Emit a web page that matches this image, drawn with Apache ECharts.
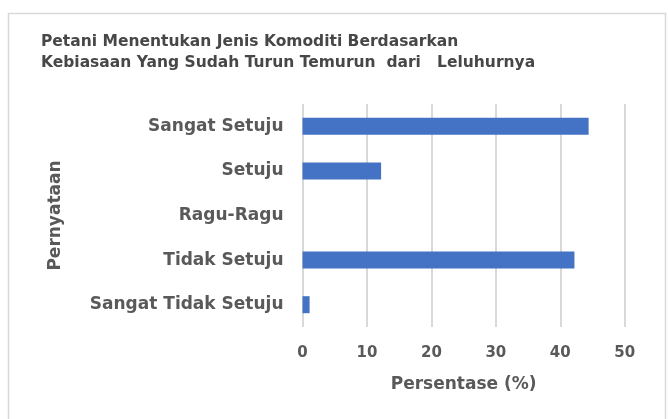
<!DOCTYPE html>
<html>
<head>
<meta charset="utf-8">
<script src="https://cdn.jsdelivr.net/npm/echarts@6/dist/echarts.min.js"></script>
<style>
html,body{margin:0;padding:0;background:#fff;}
#chart{width:668px;height:419px;}
</style>
</head>
<body>
<div id="chart"></div>
<script>
const titleLines = ["Petani Menentukan Jenis Komoditi Berdasarkan", "Kebiasaan Yang Sudah Turun Temurun  dari   Leluhurnya"];
const categories = ["Sangat Setuju", "Setuju", "Ragu-Ragu", "Tidak Setuju", "Sangat Tidak Setuju"];
const values = [44.4, 12.2, 0, 42.2, 1.1];
const xTicks = [0, 10, 20, 30, 40, 50];
const xName = "Persentase (%)";
const yName = "Pernyataan";

const chart = echarts.init(document.getElementById('chart'), null, {renderer: 'canvas'});
const font = 'DejaVu Sans';
const txt = '#595959';
chart.setOption({
  animation: false,
  backgroundColor: '#ffffff',
  graphic: [{
    type: 'rect', shape: {x: 8.5, y: 13.5, width: 657, height: 420},
    style: {fill: 'none', stroke: '#d9d9d9', lineWidth: 1.5}, silent: true
  }],
  title: {
    text: titleLines.join('\n'),
    left: 36, top: 26,
    textStyle: {fontFamily: font, fontWeight: 'bold', fontSize: 15.5, lineHeight: 21, color: '#474747'}
  },
  grid: {left: 302.5, right: 43.3, top: 104, bottom: 92},
  xAxis: {
    type: 'value', min: xTicks[0], max: xTicks[xTicks.length - 1], interval: 10,
    name: xName, nameLocation: 'middle', nameGap: 49,
    nameTextStyle: {fontFamily: font, fontWeight: 'bold', fontSize: 17, color: txt},
    axisLine: {show: false}, axisTick: {show: false},
    axisLabel: {margin: 19, fontFamily: font, fontWeight: 'bold', fontSize: 15, color: txt},
    splitLine: {show: true, lineStyle: {color: '#d9d9d9', width: 2}}
  },
  yAxis: {
    type: 'category', data: categories, inverse: true,
    name: yName, nameLocation: 'middle', nameGap: 238, nameRotate: 90,
    nameTextStyle: {fontFamily: font, fontWeight: 'bold', fontSize: 17, color: txt},
    axisLine: {show: false}, axisTick: {show: false},
    axisLabel: {margin: 19, fontFamily: font, fontWeight: 'bold', fontSize: 17, color: txt},
    splitLine: {show: false}
  },
  series: [{
    type: 'bar', data: values, barWidth: 17,
    itemStyle: {color: '#4472C4'}
  }]
});
</script>
</body>
</html>
